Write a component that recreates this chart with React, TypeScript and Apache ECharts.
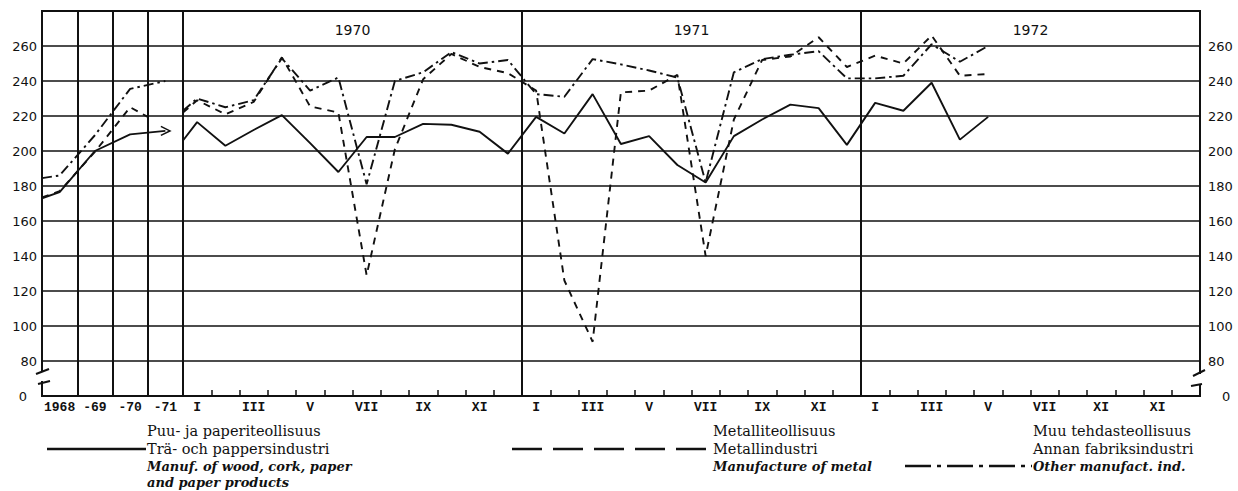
import React, { useEffect, useRef } from 'react';
import * as echarts from 'echarts';

// ---------- categories / tick labels ----------
const YEAR_CATEGORIES = ['1968', '-69', '-70', '-71'];
const SECTION_YEARS = ['1970', '1971', '1972'];
const MONTH_TICK_LABELS = [
  'I', '', 'III', '', 'V', '', 'VII', '', 'IX', '', 'XI', '',
  'I', '', 'III', '', 'V', '', 'VII', '', 'IX', '', 'XI', '',
  'I', '', 'III', '', 'V', '', 'VII', '', 'XI', '', 'XI', '',
];

// ---------- annual section (left edge value, then 1968..1971) ----------
const ANNUAL_X = [0, 0.5, 1.5, 2.5, 3.5];
const METAL_ANNUAL_X = [0, 0.5, 1.5, 2.5, 3];
const woodAnnual = [173, 176.5, 200, 209.5, 211.5];
const metalAnnual = [173.5, 177, 199.5, 225, 219.5];
const otherAnnual = [184.5, 186, 209, 235.5, 240];

// ---------- monthly section (value on the section's left edge, then months) ----------
const woodStart = 206;
const wood1970 = [216.5, 203, 212, 220.5, 204.5, 188, 208, 208, 215.5, 215, 211, 198.5];
const wood1971 = [219.5, 210, 232.5, 204, 208.5, 192, 182, 208.5, 218, 226.5, 224.5, 203.5];
const wood1972 = [227.5, 223, 239, 206.5, 219.5];

const metalStart = 222;
const metal1970 = [229, 221, 228, 253.5, 225.5, 222, 129, 201, 241, 255.5, 248, 244.5];
const metal1971 = [234.5, 126, 91, 233.5, 234.5, 243.5, 140, 218, 252, 254, 265, 248];
const metal1972 = [254.5, 250, 266, 243, 244];

const otherStart = 223;
const other1970 = [230, 225, 229, 253, 234.5, 242, 181, 240, 245, 256.5, 250, 252];
const other1971 = [232.5, 231, 252.5, 249.5, 246, 242, 182, 245, 252.5, 255, 257, 241.5];
const other1972 = [241.5, 243, 261, 251, 260];

const annualPoints = (xs: number[], vals: number[]) => vals.map((v, i) => [xs[i], v]);
const monthlyPoints = (start: number, months: number[]) => [
  [0, start],
  ...months.map((v, i) => [i + 0.5, v]),
];

const BLACK = '#111';
const SOLID = { color: BLACK, width: 1.9, type: 'solid' as const };
const DASHED = { color: BLACK, width: 1.9, type: [7, 6] };
const DOTDASH = { color: BLACK, width: 1.9, type: [10, 4, 2.5, 4] };

const yLabelFormatter = (v: number) => (v === 60 ? '{z|0}' : v === 280 ? '' : String(v));
const yLabelBase = { color: BLACK, fontFamily: 'DejaVu Sans', fontSize: 13 };

export default function App() {
  const ref = useRef<HTMLDivElement>(null);

  useEffect(() => {
    if (!ref.current) return;
    const chart = echarts.init(ref.current, undefined, { renderer: 'svg' });

    const gridLine = { show: true, lineStyle: { color: BLACK, width: 1.6 } };

    const wood = [...wood1970, ...wood1971, ...wood1972];
    const metal = [...metal1970, ...metal1971, ...metal1972];
    const other = [...other1970, ...other1971, ...other1972];

    const woodAnnualData: any[] = annualPoints(ANNUAL_X, woodAnnual);
    const last = woodAnnualData[woodAnnualData.length - 1];
    woodAnnualData[woodAnnualData.length - 1] = {
      value: last,
      symbol: 'path://M0,0L10,5L0,10',
      symbolSize: [9, 9],
      itemStyle: { color: 'none', borderColor: BLACK, borderWidth: 1.6 },
    };

    const serif = '"DejaVu Serif"';
    const legendText = (x: number, y: number, text: string, italic = false) => ({
      type: 'text',
      z: 100,
      x,
      y,
      style: {
        text,
        font: italic ? `italic bold 13px ${serif}` : `14.5px ${serif}`,
        fill: BLACK,
        verticalAlign: 'middle',
        textVerticalAlign: 'middle',
      },
    });

    const ROW = [431, 449, 466, 482];

    const option: any = {
      animation: false,
      backgroundColor: '#fff',
      grid: [
        { left: 42, top: 11, width: 141, height: 385, show: true, borderColor: BLACK, borderWidth: 2 },
        { left: 183, top: 11, width: 1017, height: 385, show: true, borderColor: BLACK, borderWidth: 2 },
      ],
      xAxis: [
        {
          type: 'value', gridIndex: 0, min: 0, max: 4, interval: 1, position: 'bottom',
          axisLabel: { show: false }, axisTick: { show: false }, axisLine: { show: false },
          splitLine: { show: true, lineStyle: { color: BLACK, width: 2 } },
        },
        {
          type: 'category', gridIndex: 0, data: YEAR_CATEGORIES, position: 'bottom',
          axisLine: { show: true, lineStyle: { color: BLACK, width: 2 } },
          axisTick: { show: false },
          axisLabel: { interval: 0, margin: 5, color: BLACK, fontFamily: 'Liberation Mono', fontSize: 13, fontWeight: 'bold' },
          splitLine: { show: false },
        },
        {
          type: 'value', gridIndex: 1, min: 0, max: 36, interval: 12, position: 'bottom',
          axisLabel: { show: false }, axisTick: { show: false }, axisLine: { show: false },
          splitLine: { show: true, lineStyle: { color: BLACK, width: 2 } },
        },
        {
          type: 'category', gridIndex: 1, data: MONTH_TICK_LABELS, position: 'bottom',
          axisLine: { show: true, lineStyle: { color: BLACK, width: 2 } },
          axisTick: { show: true, inside: true, length: 6, interval: 0, lineStyle: { color: BLACK, width: 1.5 } },
          axisLabel: { interval: 0, margin: 5, color: BLACK, fontFamily: 'Liberation Mono', fontSize: 13, fontWeight: 'bold' },
          splitLine: { show: false },
        },
        {
          type: 'category', gridIndex: 1, data: SECTION_YEARS, position: 'top',
          axisLine: { show: false }, axisTick: { show: false },
          axisLabel: { inside: true, margin: 12, color: BLACK, fontFamily: 'DejaVu Sans', fontSize: 14 },
          splitLine: { show: false },
        },
      ],
      yAxis: [
        {
          type: 'value', gridIndex: 0, min: 60, max: 280, interval: 20, position: 'left',
          axisLine: { show: false }, axisTick: { show: false },
          axisLabel: { ...yLabelBase, margin: 5, formatter: yLabelFormatter, rich: { z: { ...yLabelBase, padding: [0, 10, 0, 0] } } },
          splitLine: gridLine,
        },
        {
          type: 'value', gridIndex: 1, min: 60, max: 280, interval: 20, position: 'right',
          axisLine: { show: false }, axisTick: { show: false },
          axisLabel: { ...yLabelBase, margin: 8, formatter: yLabelFormatter, rich: { z: { ...yLabelBase, padding: [0, 0, 0, 14] } } },
          splitLine: gridLine,
        },
      ],
      series: [
        { type: 'line', xAxisIndex: 0, yAxisIndex: 0, data: woodAnnualData, symbol: 'none', showSymbol: true, lineStyle: SOLID },
        { type: 'line', xAxisIndex: 0, yAxisIndex: 0, data: annualPoints(METAL_ANNUAL_X, metalAnnual), symbol: 'none', lineStyle: DASHED },
        { type: 'line', xAxisIndex: 0, yAxisIndex: 0, data: annualPoints(ANNUAL_X, otherAnnual), symbol: 'none', lineStyle: DOTDASH },
        { type: 'line', xAxisIndex: 2, yAxisIndex: 1, data: monthlyPoints(woodStart, wood), symbol: 'none', lineStyle: SOLID },
        { type: 'line', xAxisIndex: 2, yAxisIndex: 1, data: monthlyPoints(metalStart, metal), symbol: 'none', lineStyle: DASHED },
        { type: 'line', xAxisIndex: 2, yAxisIndex: 1, data: monthlyPoints(otherStart, other), symbol: 'none', lineStyle: DOTDASH },
      ],
      graphic: [
        // axis breaks
        { type: 'rect', z: 100, shape: { x: 39, y: 372, width: 7, height: 9 }, style: { fill: '#fff' } },
        { type: 'line', z: 101, shape: { x1: 36, y1: 374, x2: 49, y2: 369 }, style: { stroke: BLACK, lineWidth: 2 } },
        { type: 'line', z: 101, shape: { x1: 38, y1: 384, x2: 50, y2: 381 }, style: { stroke: BLACK, lineWidth: 2 } },
        { type: 'rect', z: 100, shape: { x: 1197, y: 374, width: 7, height: 10 }, style: { fill: '#fff' } },
        { type: 'line', z: 101, shape: { x1: 1193, y1: 376, x2: 1205, y2: 370 }, style: { stroke: BLACK, lineWidth: 2 } },
        { type: 'line', z: 101, shape: { x1: 1191, y1: 386, x2: 1202, y2: 384 }, style: { stroke: BLACK, lineWidth: 2 } },
        // legend 1
        { type: 'line', z: 100, shape: { x1: 47, y1: ROW[1], x2: 146, y2: ROW[1] }, style: { stroke: BLACK, lineWidth: 2.5 } },
        legendText(147, ROW[0], 'Puu- ja paperiteollisuus'),
        legendText(147, ROW[1], 'Trä- och pappersindustri'),
        legendText(147, ROW[2], 'Manuf. of wood, cork, paper', true),
        legendText(147, ROW[3], 'and paper products', true),
        // legend 2
        { type: 'line', z: 100, shape: { x1: 512, y1: ROW[1], x2: 712, y2: ROW[1] }, style: { stroke: BLACK, lineWidth: 2.5, lineDash: [30, 11] } },
        legendText(713, ROW[0], 'Metalliteollisuus'),
        legendText(713, ROW[1], 'Metallindustri'),
        legendText(713, ROW[2], 'Manufacture of metal', true),
        // legend 3
        { type: 'line', z: 100, shape: { x1: 905, y1: ROW[2], x2: 1032, y2: ROW[2] }, style: { stroke: BLACK, lineWidth: 2.5, lineDash: [26, 6, 4, 6] } },
        legendText(1033, ROW[0], 'Muu tehdasteollisuus'),
        legendText(1033, ROW[1], 'Annan fabriksindustri'),
        legendText(1033, ROW[2], 'Other manufact. ind.', true),
      ],
    };

    chart.setOption(option);
    return () => chart.dispose();
  }, []);

  return <div ref={ref} style={{ position: 'fixed', left: 0, top: 0, width: 1238, height: 491 }} />;
}
